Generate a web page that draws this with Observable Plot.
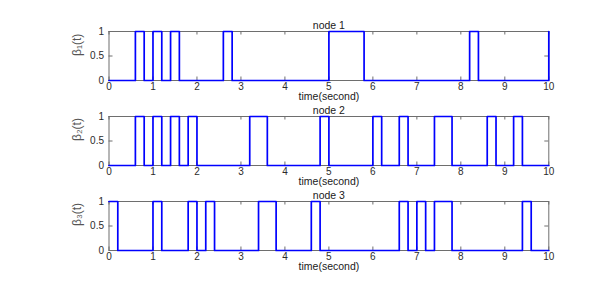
<!DOCTYPE html>
<html>
<head>
<meta charset="utf-8">
<script src="https://cdn.jsdelivr.net/npm/d3@7"></script>
<script src="https://cdn.jsdelivr.net/npm/@observablehq/plot@0.6"></script>
<style>
  html, body { margin: 0; padding: 0; background: #fff; }
  #wrap { position: relative; width: 609px; height: 286px; overflow: hidden; }
  .panel { position: absolute; left: 0; }
</style>
</head>
<body>
<div id="wrap"></div>
<script>
// Switching instants (seconds) and state after each instant
const node1Times  = [0, 0.6, 0.8, 1.0, 1.2, 1.4, 1.6, 2.6, 2.8, 5.0, 5.8, 8.2, 8.4, 10];
const node1Values = [0, 1,   0,   1,   0,   1,   0,   1,   0,   1,   0,   1,   0,   1];

const node2Times  = [0, 0.6, 0.8, 1.0, 1.2, 1.4, 1.6, 1.8, 2.0, 3.2, 3.6, 4.8, 5.0, 6.0, 6.2, 6.6, 6.8, 7.4, 7.8, 8.6, 8.8, 9.2, 9.4, 10];
const node2Values = [0, 1,   0,   1,   0,   1,   0,   1,   0,   1,   0,   1,   0,   1,   0,   1,   0,   1,   0,   1,   0,   1,   0,   0];

const node3Times  = [0, 0.2, 1.0, 1.2, 1.8, 2.0, 2.2, 2.4, 3.4, 3.8, 4.6, 4.8, 6.6, 6.8, 7.0, 7.2, 7.4, 7.8, 9.4, 9.6, 10];
const node3Values = [1, 0,   1,   0,   1,   0,   1,   0,   1,   0,   1,   0,   1,   0,   1,   0,   1,   0,   1,   0,   0];

const panelTitles = ["node 1", "node 2", "node 3"];
const yLabels = ["β\u2081(t)", "β\u2082(t)", "β\u2083(t)"];
const xLabel = "time(second)";
const xTicks = [0, 1, 2, 3, 4, 5, 6, 7, 8, 9, 10];
const yTicks = [0, 0.5, 1];

const W = 609, ML = 108.5, MR = 60.7, MT = 31, IH = 49, MB = 22;
const IW = W - ML - MR;
const axisColor = "#6e6e6e";

function makePanel(times, values, title, ylab) {
  const data = times.map((t, i) => ({t, v: values[i]}));
  return Plot.plot({
    width: W, height: MT + IH + MB,
    marginTop: MT, marginBottom: MB, marginLeft: ML, marginRight: MR,
    style: {background: "transparent", overflow: "visible", fontFamily: "Liberation Sans, Arial, sans-serif", fontSize: "10px", color: "#2b2b2b"},
    x: {domain: [0, 10], ticks: xTicks, tickSize: 0, tickPadding: 2, label: null, tickFormat: d => String(d)},
    y: {domain: [0, 1], ticks: yTicks, tickSize: 0, tickPadding: 5, label: null, tickFormat: d => String(d)},
    marks: [
      Plot.frame({stroke: axisColor, strokeWidth: 1}),
      Plot.tickX(xTicks, {x: d => d, stroke: axisColor, insetTop: IH - 3.5}),
      Plot.tickX(xTicks, {x: d => d, stroke: axisColor, insetBottom: IH - 3.5}),
      Plot.tickY(yTicks, {y: d => d, stroke: axisColor, insetRight: IW - 4}),
      Plot.tickY(yTicks, {y: d => d, stroke: axisColor, insetLeft: IW - 4}),
      Plot.line(data, {x: "t", y: "v", curve: "step-after", stroke: "#0000ff", strokeWidth: 1.7}),
      Plot.text([title], {text: d => d, frameAnchor: "top", lineAnchor: "bottom", dy: -3, fill: "#1a1a1a", fontSize: 10.5}),
      Plot.text([xLabel], {text: d => d, frameAnchor: "bottom", lineAnchor: "top", dy: 12.5, fill: "#1a1a1a", fontSize: 10.5}),
      Plot.text([ylab], {text: d => d, frameAnchor: "left", dx: -32, rotate: -90, fill: "#555", fontSize: 12})
    ]
  });
}

const series = [[node1Times, node1Values], [node2Times, node2Values], [node3Times, node3Values]];
const wrap = document.getElementById("wrap");
series.forEach(([t, v], i) => {
  const div = document.createElement("div");
  div.className = "panel";
  div.style.top = (85 * i) + "px";
  div.appendChild(makePanel(t, v, panelTitles[i], yLabels[i]));
  wrap.appendChild(div);
});
</script>
</body>
</html>
